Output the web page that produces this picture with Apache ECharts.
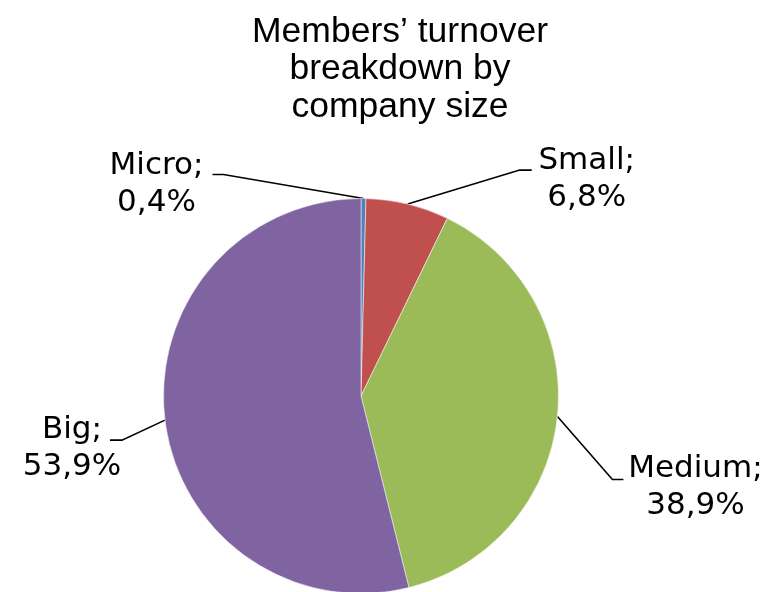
<!DOCTYPE html>
<html>
<head>
  <meta charset="utf-8" />
  <title>ECharts</title>
  <script src="https://cdn.jsdelivr.net/npm/echarts@6/dist/echarts.min.js"></script>
</head>
<body style="margin:0;background:#fff;">
<div id="main" style="width:773px;height:592px;"></div>
<script type="text/javascript">
  // data
  var sizes = ['Micro', 'Small', 'Medium', 'Big'];
  var shares = [0.4, 6.8, 38.9, 53.9];
  var colors = ['#4F81BD', '#C0504D', '#9BBB59', '#8064A2'];

  // leader line elbow / end and label centre, as offsets from the slice edge point
  var elbow = [[-140, -24], [112, -34], [55, 63], [-43, 20]];
  var lineEnd = [[-151, -24], [124, -34], [66, 63], [-55, 20]];
  var labelShift = [[-56, 10], [55, 9], [72, 8], [-38, 8]];

  var myChart = echarts.init(document.getElementById('main'));

  var data = sizes.map(function (name, i) {
    return { name: name, value: shares[i], itemStyle: { color: colors[i] } };
  });

  var option = {
    backgroundColor: '#fff',
    animation: false,
    title: {
      text: 'Members\u2019 turnover\nbreakdown by\ncompany size',
      left: 395,
      top: 8,
      textAlign: 'center',
      textStyle: {
        fontFamily: 'Liberation Sans',
        fontSize: 35.5,
        fontWeight: 'normal',
        lineHeight: 37.5,
        color: '#000'
      }
    },
    series: [
      {
        type: 'pie',
        radius: 197.5,
        center: [361, 396],
        startAngle: 90,
        clockwise: true,
        avoidLabelOverlap: false,
        data: data,
        itemStyle: { borderColor: '#fff', borderWidth: 0.5 },
        label: {
          show: true,
          position: 'outside',
          fontFamily: 'DejaVu Sans',
          fontSize: 31,
          lineHeight: 37,
          color: '#000',
          align: 'center',
          formatter: function (p) {
            return p.name + ';\n' + String(p.value).replace('.', ',') + '%';
          }
        },
        labelLine: {
          show: true,
          length: 10,
          length2: 10,
          lineStyle: { color: '#000', width: 1.6 }
        },
        labelLayout: function (params) {
          var i = params.dataIndex;
          var a = params.labelLinePoints[0];
          var e = [a[0] + elbow[i][0], a[1] + elbow[i][1]];
          var t = [a[0] + lineEnd[i][0], a[1] + lineEnd[i][1]];
          return {
            x: t[0] + labelShift[i][0],
            y: t[1] + labelShift[i][1],
            align: 'center',
            verticalAlign: 'middle',
            labelLinePoints: [a, e, t]
          };
        },
        emphasis: { disabled: true }
      }
    ]
  };
  myChart.setOption(option);
</script>
</body>
</html>
